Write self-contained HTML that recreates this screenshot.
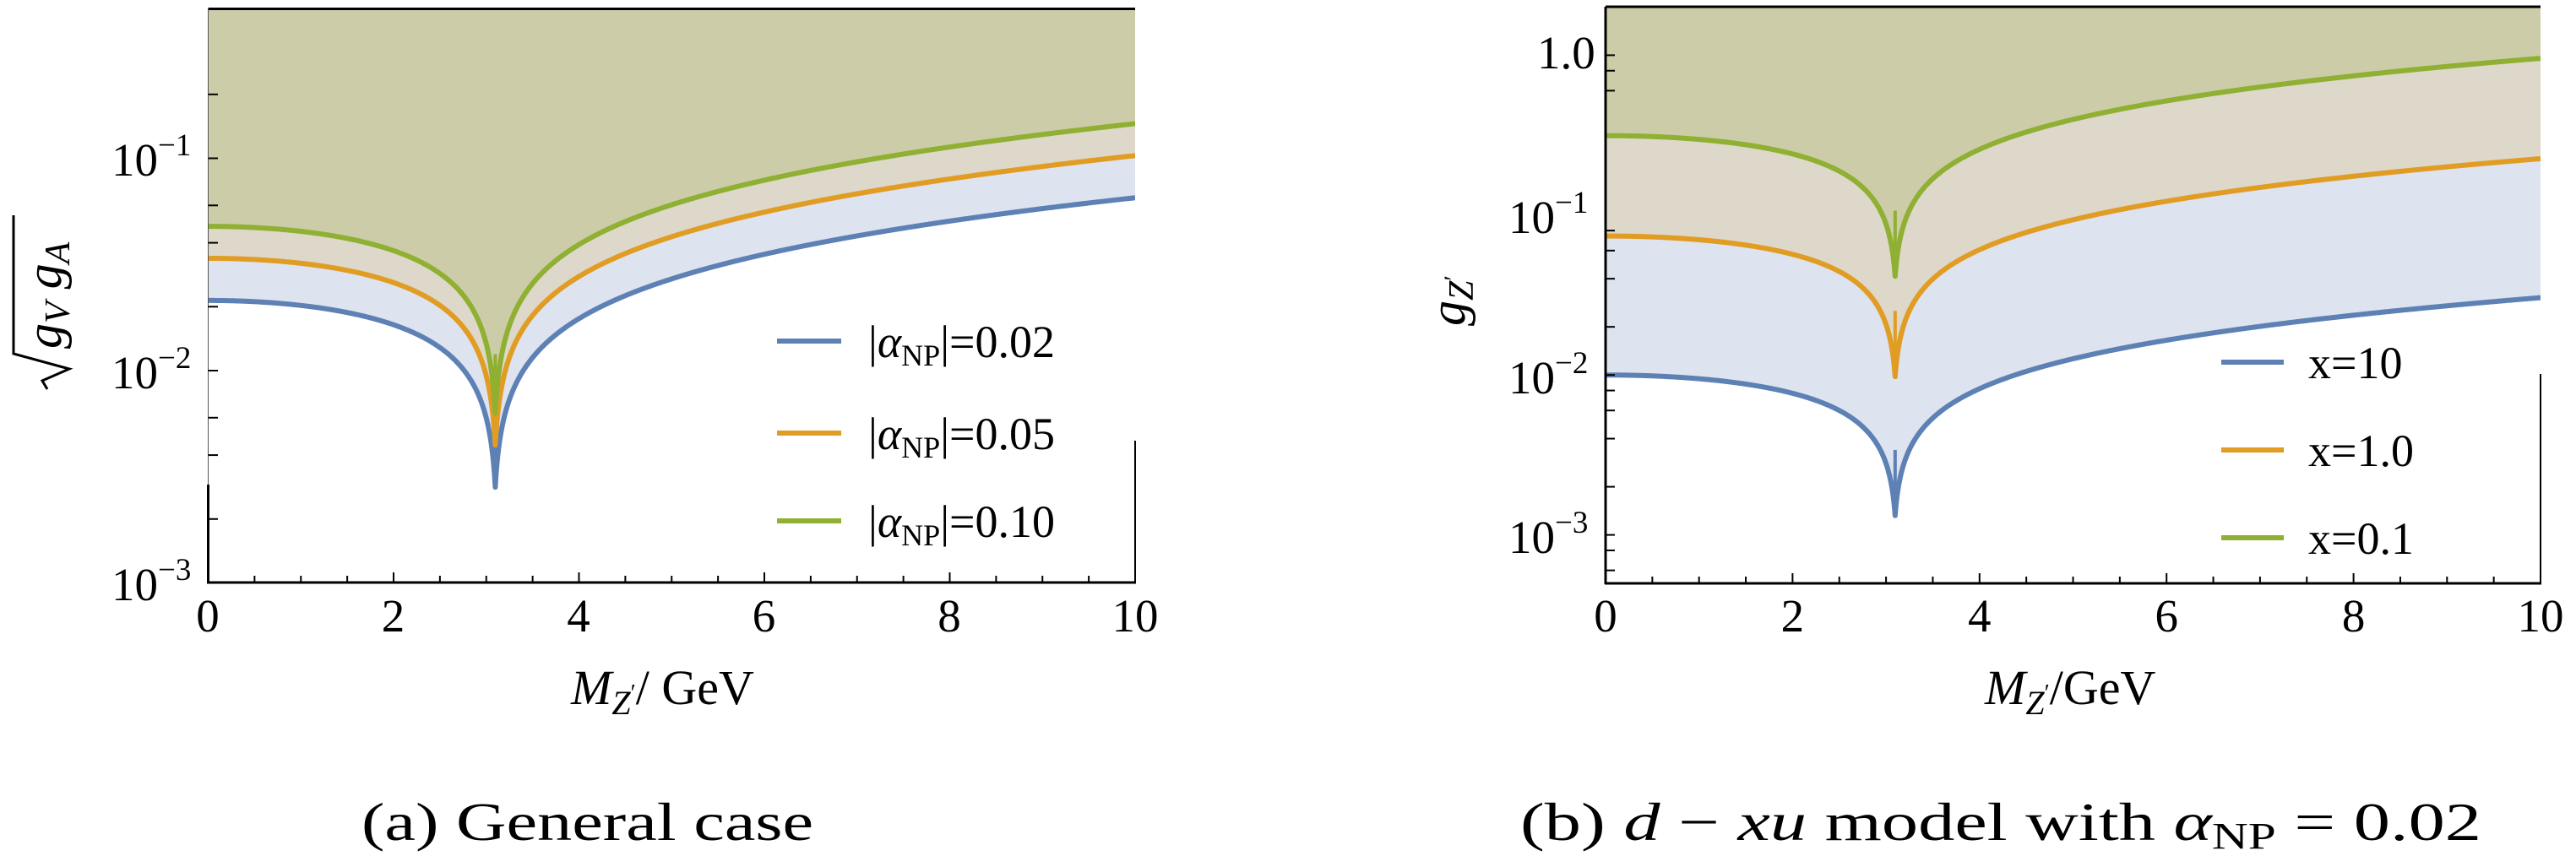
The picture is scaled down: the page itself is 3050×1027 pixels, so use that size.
<!DOCTYPE html>
<html><head><meta charset="utf-8"><style>
html,body{margin:0;padding:0;background:#fff;}
svg, svg text, svg tspan{font-family:"Liberation Serif","Times New Roman",serif;}
</style></head><body>
<svg id="s" width="3050" height="1022" viewBox="0 0 3050 1022" xmlns="http://www.w3.org/2000/svg" font-family="Liberation Serif, serif">
<defs>
<clipPath id="cl"><rect x="246.5" y="10.5" width="1097.5" height="679.5"/></clipPath>
<clipPath id="cr"><rect x="1901" y="8" width="1107" height="683"/></clipPath>
</defs>
<g id="gl" clip-path="url(#cl)"></g>
<g id="gr" clip-path="url(#cr)"></g>
<g id="ax" stroke="#000" fill="none"></g>

<g font-size="55" fill="#000">
<text x="246" y="748" text-anchor="middle">0</text>
<text x="465.5" y="748" text-anchor="middle">2</text>
<text x="685" y="748" text-anchor="middle">4</text>
<text x="904.5" y="748" text-anchor="middle">6</text>
<text x="1124" y="748" text-anchor="middle">8</text>
<text x="1344" y="748" text-anchor="middle">10</text>
<text x="1901" y="748" text-anchor="middle">0</text>
<text x="2122.4" y="748" text-anchor="middle">2</text>
<text x="2343.8" y="748" text-anchor="middle">4</text>
<text x="2565.2" y="748" text-anchor="middle">6</text>
<text x="2786.6" y="748" text-anchor="middle">8</text>
<text x="3008" y="748" text-anchor="middle">10</text>
<text x="132" y="208">10<tspan font-size="37" dy="-24">−1</tspan></text>
<text x="132" y="460">10<tspan font-size="37" dy="-24">−2</tspan></text>
<text x="132" y="711">10<tspan font-size="37" dy="-24">−3</tspan></text>
<text x="1820" y="81">1.0</text>
<text x="1786" y="276">10<tspan font-size="37" dy="-24">−1</tspan></text>
<text x="1786" y="466">10<tspan font-size="37" dy="-24">−2</tspan></text>
<text x="1786" y="655">10<tspan font-size="37" dy="-24">−3</tspan></text>
</g>

<g transform="translate(60,349) rotate(-90)">
<path d="M -112,-4 L -102,-10 L -88,22 L -70,-44 L 94,-44" fill="none" stroke="#000" stroke-width="3"/>
<text x="-64" y="12" font-size="60" font-style="italic">g<tspan font-size="42" dy="10">V</tspan><tspan dy="-10"> g</tspan><tspan font-size="42" dy="10">A</tspan></text>
</g>
<g transform="translate(1722,356) rotate(-90)">
<text x="-30" y="12" font-size="60" font-style="italic">g<tspan font-size="42" dy="10">Z</tspan><tspan font-size="30" dy="-14" font-style="normal">′</tspan></text>
</g>
<text x="676" y="834" font-size="58"><tspan font-style="italic">M</tspan><tspan font-size="40" font-style="italic" dy="12">Z</tspan><tspan font-size="28" dy="-16">′</tspan><tspan dy="4" font-size="58">/ GeV</tspan></text>
<text x="2350" y="834" font-size="58"><tspan font-style="italic">M</tspan><tspan font-size="40" font-style="italic" dy="12">Z</tspan><tspan font-size="28" dy="-16">′</tspan><tspan dy="4" font-size="58">/GeV</tspan></text>

<g stroke-width="6">
<line x1="920" y1="404" x2="996" y2="404" stroke="#5e81b5"/>
<line x1="920" y1="513" x2="996" y2="513" stroke="#e19c24"/>
<line x1="920" y1="617" x2="996" y2="617" stroke="#8fb032"/>
<line x1="2630" y1="429" x2="2704" y2="429" stroke="#5e81b5"/>
<line x1="2630" y1="533" x2="2704" y2="533" stroke="#e19c24"/>
<line x1="2630" y1="637" x2="2704" y2="637" stroke="#8fb032"/>
</g>
<g font-size="54" fill="#000">
<text x="1028" y="423">|<tspan font-style="italic">α</tspan><tspan font-size="36" dy="10">NP</tspan><tspan dy="-10">|=0.02</tspan></text>
<text x="1028" y="532">|<tspan font-style="italic">α</tspan><tspan font-size="36" dy="10">NP</tspan><tspan dy="-10">|=0.05</tspan></text>
<text x="1028" y="636">|<tspan font-style="italic">α</tspan><tspan font-size="36" dy="10">NP</tspan><tspan dy="-10">|=0.10</tspan></text>
<text x="2733" y="448">x=10</text>
<text x="2733" y="552">x=1.0</text>
<text x="2733" y="656">x=0.1</text>
</g>

<text x="428" y="995" font-size="64" textLength="535" lengthAdjust="spacingAndGlyphs">(a) General case</text>
<text x="1800" y="995" font-size="64" textLength="1138" lengthAdjust="spacingAndGlyphs">(b) <tspan font-style="italic">d</tspan> − <tspan font-style="italic">xu</tspan> model with <tspan font-style="italic">α</tspan><tspan font-size="44" dy="10">NP</tspan><tspan dy="-10"> = 0.02</tspan></text>
</svg>
<script>
(function(){
var NS="http://www.w3.org/2000/svg";
function el(p,t,a){var e=document.createElementNS(NS,t);for(var k in a)e.setAttribute(k,a[k]);p.appendChild(e);return e;}
var m=3.097,eps=0.17;
function f(M){return Math.sqrt(Math.abs(M*M-m*m)+eps)/Math.sqrt(m*m+eps);}
function plot(g,x0,x1,top,yOf,series,spikeR){
  var X=function(M){return x0+(x1-x0)*M/10;};
  var Ms=[];for(var M=0;M<=10.0001;M+=0.01)Ms.push(M);
  for(var d=-0.2;d<=0.2;d+=0.002)Ms.push(m+d);
  Ms.sort(function(a,b){return a-b;});
  var paths=series.map(function(s){
    var p="";Ms.forEach(function(M,i){p+=(i?"L":"M")+X(M).toFixed(2)+","+yOf(s.g0*f(M)).toFixed(2);});
    return p;});
  series.forEach(function(s,i){
    el(g,"path",{d:paths[i]+"L"+x1+","+(top-5)+"L"+x0+","+(top-5)+"Z",fill:s.fill,stroke:"none"});
  });
  series.forEach(function(s,i){
    el(g,"path",{d:paths[i],fill:"none",stroke:s.c,"stroke-width":6,"stroke-linejoin":"round"});
    var xm=X(m);
    el(g,"rect",{x:xm-2,y:yOf(s.g0*spikeR),width:4,height:yOf(s.g0*f(m))-yOf(s.g0*spikeR),fill:s.c});
  });
}
var yL=function(v){return 187.5+(-1-Math.log10(v))*251.5;};
var yR=function(v){return 65.4-Math.log10(v)*189.4;};
var B="#5e81b5",O="#e19c24",G="#8fb032";
plot(document.getElementById("gl"),246.5,1344,10.5,yL,[
 {g0:0.0214,c:B,fill:"#dde3ef"},{g0:0.0338,c:O,fill:"#ddd8c9"},{g0:0.0478,c:G,fill:"#cccda8"}],0.25);
plot(document.getElementById("gr"),1901,3008,8,yR,[
 {g0:0.01,c:B,fill:"#dde3ef"},{g0:0.074,c:O,fill:"#ddd8c9"},{g0:0.314,c:G,fill:"#cccda8"}],0.34);
var ax=document.getElementById("ax");
el(ax,"line",{x1:246.5,y1:10.5,x2:1344,y2:10.5,"stroke-width":3});
el(ax,"line",{x1:246.5,y1:10.5,x2:246.5,y2:574,"stroke-width":1,stroke:"#555"});
el(ax,"line",{x1:246.5,y1:574,x2:246.5,y2:691,"stroke-width":3});
el(ax,"line",{x1:245,y1:690,x2:1345,y2:690,"stroke-width":3});
el(ax,"line",{x1:1344,y1:522,x2:1344,y2:690,"stroke-width":2});
el(ax,"line",{x1:1901,y1:8,x2:3008,y2:8,"stroke-width":3});
el(ax,"line",{x1:1901,y1:8,x2:1901,y2:692,"stroke-width":3});
el(ax,"line",{x1:1900,y1:691,x2:3009,y2:691,"stroke-width":3});
el(ax,"line",{x1:3008,y1:443,x2:3008,y2:691,"stroke-width":2});
[[246.5,1344,690],[1901,3008,691]].forEach(function(a){
  for(var i=0;i<=20;i++){var x=a[0]+(a[1]-a[0])*i/20;var L=(i%4==0)?12:8;
    el(ax,"line",{x1:x,y1:a[2],x2:x,y2:a[2]-L,"stroke-width":2});}
});
[0.2,0.1,0.06,0.04,0.02,0.01,0.006,0.004,0.002].forEach(function(v){var y=yL(v);
  el(ax,"line",{x1:246.5,y1:y,x2:258,y2:y,"stroke-width":2});});
[1,0.8,0.6,0.08,0.06,0.04,0.02,0.01,0.008,0.006,0.004,0.002,0.001,0.0008,0.0006].forEach(function(v){var y=yR(v);
  el(ax,"line",{x1:1901,y1:y,x2:1912,y2:y,"stroke-width":2});});
})();
</script>
</body></html>
